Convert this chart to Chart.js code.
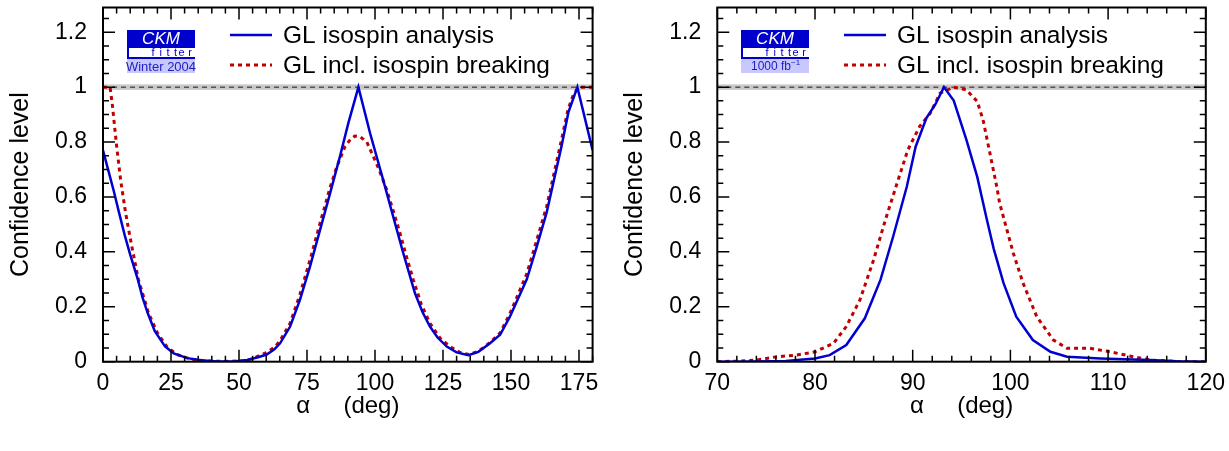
<!DOCTYPE html>
<html>
<head>
<meta charset="utf-8">
<script src="https://cdn.jsdelivr.net/npm/chart.js@4.4.1/dist/chart.umd.min.js"></script>
<style>
body { margin: 0; background: #fff; width: 1229px; height: 451px; overflow: hidden; }
canvas { position: absolute; top: 0; }
#left { left: 0; }
#right { left: 614px; }
</style>
</head>
<body>
<canvas id="left" width="614" height="451"></canvas>
<canvas id="right" width="615" height="451"></canvas>
<script>
const FONT = "'Liberation Sans', Arial, Helvetica, sans-serif"

const seriesLabels = ["GL isospin analysis", "GL incl. isospin breaking"]
const yTickValues = [0, 0.2, 0.4, 0.6, 0.8, 1, 1.2]

// left panel: alpha over 0..180 deg
const leftXTicks = [0, 25, 50, 75, 100, 125, 150, 175]
const leftBlueAlpha = [0, 2, 4, 5.9, 8, 10, 12.8, 14.5, 16.4, 19, 22.8, 26, 31, 36, 42, 48, 53, 57, 60.2, 63, 65.1, 68.8, 72.4, 76.1, 79.8, 83.5, 87.1, 90.2, 93.9, 98.2, 103, 106.7, 110.4, 114.7, 117.5, 120.2, 123, 126.4, 130, 134.3, 138, 142.3, 146, 149.6, 155.8, 159.5, 163.1, 168.6, 171.1, 174.4, 180]
const leftBlueCL = [0.77, 0.695, 0.62, 0.543, 0.46, 0.39, 0.30, 0.235, 0.178, 0.112, 0.056, 0.03, 0.013, 0.005, 0.001, 0.001, 0.006, 0.016, 0.026, 0.045, 0.067, 0.128, 0.225, 0.346, 0.48, 0.614, 0.747, 0.869, 1.0, 0.832, 0.662, 0.528, 0.395, 0.249, 0.18, 0.128, 0.088, 0.055, 0.034, 0.024, 0.036, 0.067, 0.098, 0.164, 0.30, 0.42, 0.543, 0.786, 0.908, 1.0, 0.77]
const leftRedAlpha = [0, 2.6, 3.5, 5, 6.5, 8.3, 10, 13, 16.7, 20, 23.4, 27, 32, 38, 45, 52, 55.3, 57, 60, 63, 65, 68.8, 72.4, 76.1, 79.8, 83.5, 86, 89, 91, 92.6, 94.5, 97, 99.4, 101.5, 104.3, 106.7, 109.2, 111.5, 114.1, 117, 120.2, 124, 127.6, 131, 134.5, 138, 142.3, 146, 149.6, 155.8, 163.1, 168.6, 171, 173, 175, 180]
const leftRedCL = [1.0, 1.0, 0.93, 0.786, 0.66, 0.543, 0.45, 0.30, 0.178, 0.105, 0.056, 0.027, 0.01, 0.003, 0.001, 0.003, 0.012, 0.02, 0.033, 0.052, 0.075, 0.14, 0.245, 0.37, 0.505, 0.635, 0.711, 0.784, 0.81, 0.822, 0.82, 0.80, 0.747, 0.70, 0.626, 0.55, 0.468, 0.385, 0.298, 0.21, 0.14, 0.085, 0.055, 0.035, 0.026, 0.038, 0.07, 0.105, 0.175, 0.32, 0.565, 0.81, 0.92, 0.975, 1.0, 1.0]

// right panel: 1000 fb-1 projection, alpha over 70..120 deg
const rightXTicks = [70, 80, 90, 100, 110, 120]
const rightBlueAlpha = [70, 74, 77, 80, 81.5, 83.2, 85.1, 86.7, 88, 89.4, 90.3, 91.4, 92.3, 93.2, 94.2, 95.5, 96.6, 97.6, 98.3, 99.3, 100.6, 102.3, 104.1, 105.8, 109.2, 114.3, 117, 120]
const rightBlueCL = [0, 0.001, 0.003, 0.012, 0.024, 0.061, 0.158, 0.298, 0.456, 0.638, 0.783, 0.887, 0.936, 1.0, 0.951, 0.808, 0.674, 0.516, 0.41, 0.286, 0.164, 0.079, 0.036, 0.018, 0.012, 0.006, 0.002, 0]
const rightRedAlpha = [70, 72, 74, 76.1, 78.1, 80, 81.9, 83.2, 84.6, 86, 87.2, 88.4, 89.5, 90.7, 91.8, 92.8, 94.2, 95.5, 96.6, 97.2, 97.9, 98.6, 98.9, 100.3, 101.3, 102.7, 104.4, 105.8, 108.1, 110.2, 112.2, 114.3, 117.5, 120]
const rightRedCL = [0, 0.002, 0.006, 0.018, 0.024, 0.036, 0.067, 0.128, 0.225, 0.371, 0.516, 0.65, 0.771, 0.856, 0.905, 0.978, 1.0, 0.99, 0.948, 0.881, 0.76, 0.638, 0.577, 0.395, 0.286, 0.164, 0.079, 0.049, 0.049, 0.036, 0.021, 0.006, 0, 0]

const BLUE = "#0000d0"
const RED = "#c00000"

function points(xs, ys) {
    return xs.map((x, i) => ({x: x, y: ys[i]}))
}

// frame, inside ticks, CL=1 band, legend and CKMfitter logo (ROOT style)
const ckmPlugin = {
    id: "ckm",
    beforeDatasetsDraw(chart) {
        const {ctx, chartArea: a, scales: {y}} = chart
        ctx.save()
        const yt = y.getPixelForValue(1.01), yb = y.getPixelForValue(0.99)
        ctx.fillStyle = "#c8c8c8"
        ctx.fillRect(a.left, yt, a.right - a.left, yb - yt)
        ctx.strokeStyle = "#555"
        ctx.lineWidth = 1.5
        ctx.setLineDash([5, 4])
        ctx.beginPath()
        ctx.moveTo(a.left, y.getPixelForValue(1))
        ctx.lineTo(a.right, y.getPixelForValue(1))
        ctx.stroke()
        ctx.restore()
    },
    afterDraw(chart, args, opts) {
        const {ctx, chartArea: a, scales: {x, y}} = chart
        ctx.save()
        ctx.strokeStyle = "#000"
        ctx.lineWidth = 2
        ctx.strokeRect(a.left, a.top, a.right - a.left, a.bottom - a.top)

        ctx.lineWidth = 1.5
        ctx.beginPath()
        for (let v = x.min; v <= x.max + 1e-9; v += opts.xMinor) {
            const px = x.getPixelForValue(v)
            const major = Math.abs(v / opts.xMajor - Math.round(v / opts.xMajor)) < 1e-6
            const len = major ? 12 : 6
            ctx.moveTo(px, a.bottom); ctx.lineTo(px, a.bottom - len)
            ctx.moveTo(px, a.top); ctx.lineTo(px, a.top + len)
        }
        for (let v = 0; v <= y.max + 1e-9; v += 0.05) {
            const py = y.getPixelForValue(v)
            const major = Math.abs(v / 0.2 - Math.round(v / 0.2)) < 1e-6
            const len = major ? 12 : 6
            ctx.moveTo(a.left, py); ctx.lineTo(a.left + len, py)
            ctx.moveTo(a.right, py); ctx.lineTo(a.right - len, py)
        }
        ctx.stroke()

        // legend
        const lx = 230, rows = [35, 65]
        ctx.font = "24.5px " + FONT
        ctx.fillStyle = "#000"
        ctx.textBaseline = "middle"
        ctx.textAlign = "left"
        chart.data.datasets.forEach((ds, i) => {
            ctx.strokeStyle = ds.borderColor
            ctx.lineWidth = ds.borderWidth
            ctx.setLineDash(ds.borderDash || [])
            ctx.beginPath()
            ctx.moveTo(lx, rows[i]); ctx.lineTo(lx + 42, rows[i])
            ctx.stroke()
            ctx.fillText(ds.label, lx + 53, rows[i] + 1)
        })
        ctx.setLineDash([])

        // logo
        const gx = 127, gy = 30, gw = 68
        ctx.fillStyle = "#0000cc"
        ctx.fillRect(gx, gy, gw, 18)
        ctx.fillStyle = "#fff"
        ctx.font = "italic 17px " + FONT
        ctx.textAlign = "center"
        ctx.fillText("CKM", gx + gw / 2, gy + 9.5)
        ctx.fillStyle = "#0000cc"
        ctx.fillRect(gx, gy + 18, 2, 11)
        ctx.fillRect(gx, gy + 27, gw, 2)
        ctx.font = "11px " + FONT
        ctx.textAlign = "right"
        const letters = "fitter".split("")
        for (let i = 0; i < letters.length; i++) {
            ctx.fillText(letters[letters.length - 1 - i], gx + gw - 3 - i * 7.5, gy + 23)
        }
        ctx.fillStyle = "#c8c8ff"
        ctx.fillRect(gx, gy + 29, gw, 14)
        ctx.fillStyle = "#2020c0"
        ctx.textAlign = "center"
        if (opts.sup) {
            ctx.font = "12px " + FONT
            const w = ctx.measureText(opts.logoText).width
            ctx.textAlign = "left"
            ctx.fillText(opts.logoText, gx + gw / 2 - w / 2 - 4, gy + 37)
            ctx.font = "8px " + FONT
            ctx.fillText(opts.sup, gx + gw / 2 + w / 2 - 4, gy + 33)
        } else {
            ctx.font = "13px " + FONT
            ctx.fillText(opts.logoText, gx + gw / 2, gy + 37)
        }
        ctx.restore()
    }
}

function makeChart(id, blue, red, xMin, xMax, xTicks, yWidth, padRight, pluginOpts) {
    return new Chart(document.getElementById(id), {
        type: "line",
        data: {
            datasets: [
                {label: seriesLabels[0], data: blue, borderColor: BLUE, borderWidth: 2.5, pointRadius: 0, tension: 0},
                {label: seriesLabels[1], data: red, borderColor: RED, borderWidth: 3, borderDash: [4, 4], pointRadius: 0, tension: 0}
            ]
        },
        options: {
            responsive: false,
            animation: false,
            layout: {padding: {top: 7.5, right: padRight, left: 0, bottom: 0}},
            plugins: {legend: {display: false}, tooltip: {enabled: false}, ckm: pluginOpts},
            scales: {
                x: {
                    type: "linear", min: xMin, max: xMax,
                    grid: {display: false}, border: {display: false},
                    afterBuildTicks: s => { s.ticks = xTicks.map(v => ({value: v})) },
                    afterFit: s => { s.height = 451 - 361.7; s.paddingLeft = 0; s.paddingRight = 0 },
                    ticks: {color: "#000", font: {family: FONT, size: 23}, padding: 0, maxRotation: 0, autoSkip: false,
                        callback: v => String(v)},
                    title: {display: true, text: "α     (deg)", color: "#000", font: {family: FONT, size: 24, lineHeight: 1.2}, padding: {bottom: 30}}
                },
                y: {
                    type: "linear", min: 0, max: 1.29,
                    grid: {display: false}, border: {display: false},
                    afterBuildTicks: s => { s.ticks = yTickValues.map(v => ({value: v})) },
                    afterFit: s => { s.width = yWidth; s.paddingTop = 0; s.paddingBottom = 0 },
                    ticks: {color: "#000", font: {family: FONT, size: 23}, padding: 8,
                        callback: v => String(Math.round(v * 10) / 10)},
                    title: {display: true, text: "Confidence level", color: "#000", font: {family: FONT, size: 25, lineHeight: 1.2}, padding: {top: 6}}
                }
            }
        },
        plugins: [ckmPlugin]
    })
}

makeChart("left", points(leftBlueAlpha, leftBlueCL), points(leftRedAlpha, leftRedCL), 0, 180, leftXTicks, 103, 614 - 592.6,
    {xMinor: 5, xMajor: 25, logoText: "Winter 2004"})
makeChart("right", points(rightBlueAlpha, rightBlueCL), points(rightRedAlpha, rightRedCL), 70, 120, rightXTicks, 103.3, 615 - 591.8,
    {xMinor: 2, xMajor: 10, logoText: "1000 fb", sup: "−1"})
</script>
</body>
</html>
